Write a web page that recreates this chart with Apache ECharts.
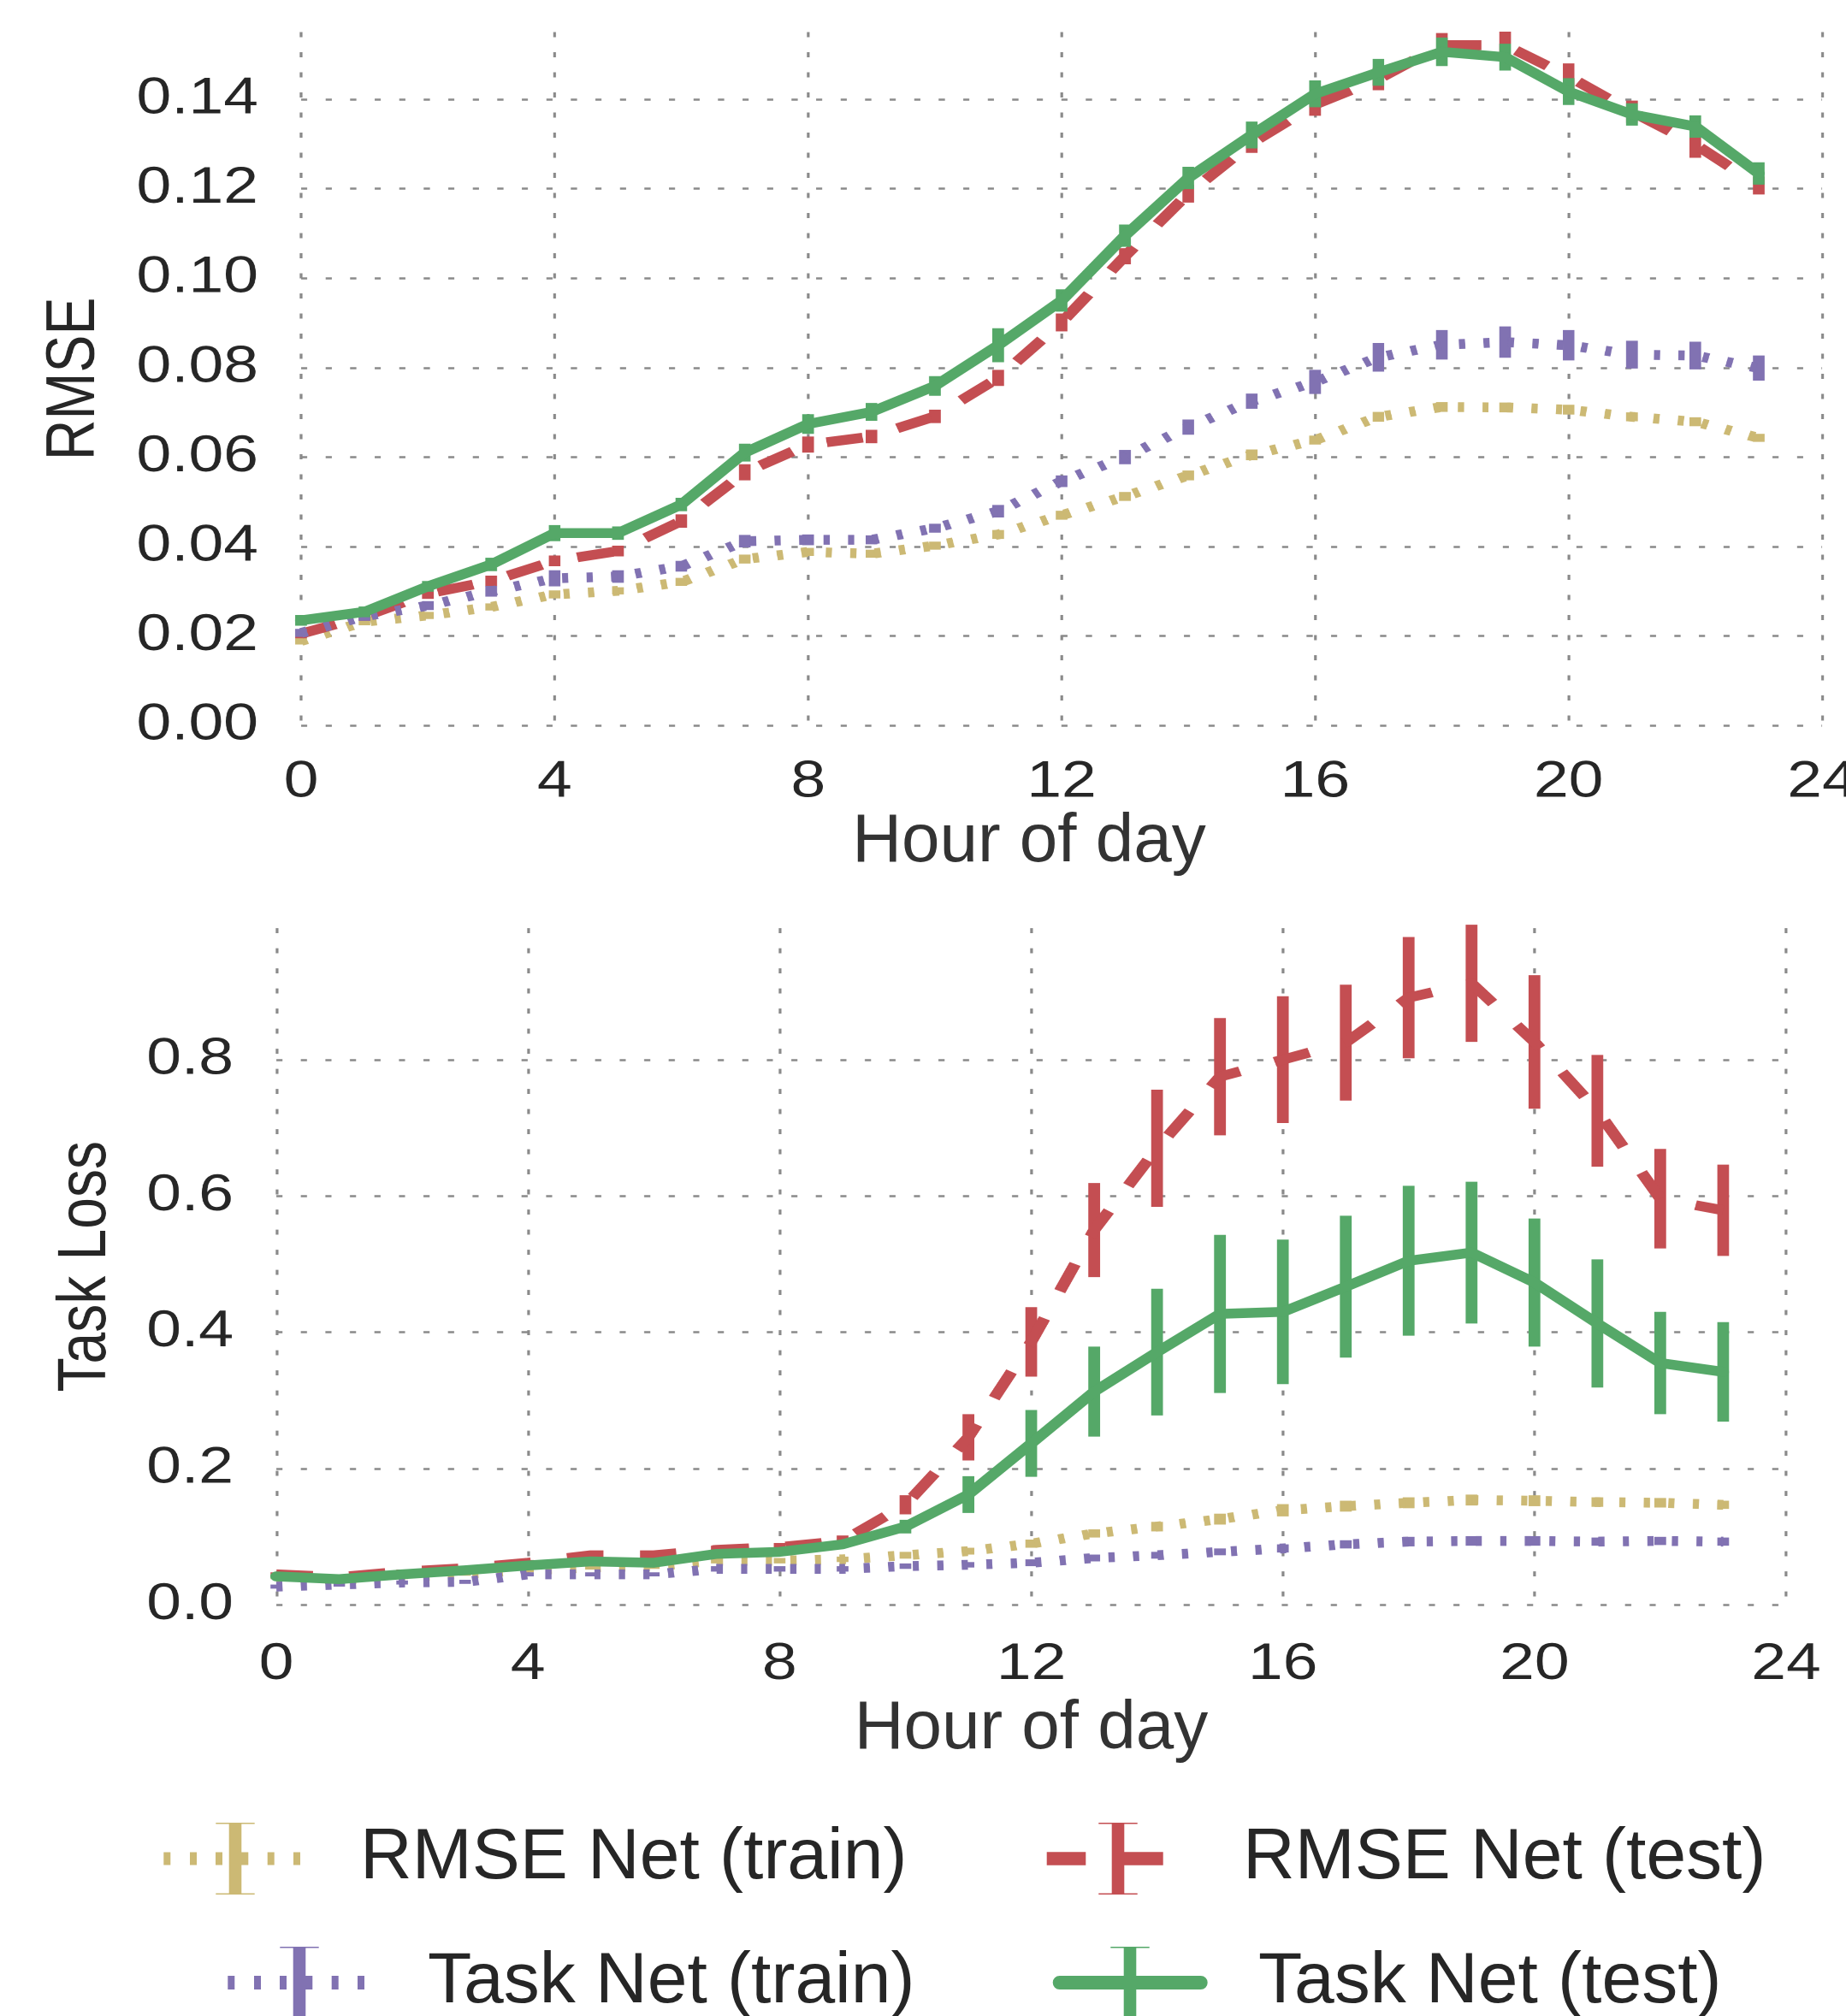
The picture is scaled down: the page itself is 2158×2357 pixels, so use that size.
<!DOCTYPE html>
<html><head><meta charset="utf-8">
<script src="https://cdn.jsdelivr.net/npm/echarts@6/dist/echarts.min.js"></script>
<style>
html,body{margin:0;padding:0;background:#fff;}
#wrap{position:relative;width:2158px;height:2357px;overflow:hidden;background:#fff;}
#plots{position:absolute;left:0;top:0;height:2357px;transform-origin:0 0;}
#legend{position:absolute;left:0;top:0;width:2158px;height:2357px;}
</style></head><body>
<div id="wrap"><div id="plots"></div><div id="legend"></div></div>
<script>
// ---------------- data ----------------
const hours = [0,1,2,3,4,5,6,7,8,9,10,11,12,13,14,15,16,17,18,19,20,21,22,23];
const seriesNames = ['RMSE Net (train)', 'RMSE Net (test)', 'Task Net (train)', 'Task Net (test)'];
const xTicks = [0,4,8,12,16,20,24];

// top panel: RMSE
const rmseRmseTrain = [0.0189,0.0232,0.0246,0.0265,0.0293,0.0301,0.0321,0.0372,0.0388,0.0384,0.0402,0.0427,0.0470,0.0512,0.0559,0.0605,0.0638,0.0690,0.0712,0.0711,0.0706,0.0690,0.0679,0.0643];
const rmseRmseTrainErr = [0.0008,0.0008,0.0008,0.0008,0.0009,0.0008,0.0009,0.0010,0.0009,0.0009,0.0009,0.0010,0.0010,0.0010,0.0011,0.0012,0.0010,0.0011,0.0011,0.0011,0.0011,0.0010,0.0010,0.0009];
const rmseRmseTest = [0.0205,0.0244,0.0295,0.0323,0.0368,0.0390,0.0457,0.0566,0.0628,0.0646,0.0691,0.0777,0.0901,0.1049,0.1189,0.1302,0.1388,0.1445,0.1521,0.1521,0.1451,0.1372,0.1299,0.1207];
const rmseRmseTestErr = [0.0010,0.0010,0.0012,0.0012,0.0012,0.0012,0.0015,0.0018,0.0018,0.0015,0.0015,0.0018,0.0020,0.0018,0.0020,0.0022,0.0025,0.0025,0.0027,0.0030,0.0029,0.0025,0.0030,0.0020];
const rmseTaskTrain = [0.0207,0.0244,0.0268,0.0300,0.0329,0.0333,0.0356,0.0412,0.0415,0.0415,0.0441,0.0479,0.0546,0.0600,0.0667,0.0725,0.0768,0.0823,0.0851,0.0857,0.0850,0.0829,0.0827,0.0799];
const rmseTaskTrainErr = [0.0009,0.0010,0.0010,0.0012,0.0018,0.0014,0.0012,0.0014,0.0012,0.0010,0.0010,0.0014,0.0013,0.0016,0.0017,0.0017,0.0027,0.0032,0.0033,0.0035,0.0034,0.0031,0.0031,0.0028];
const rmseTaskTest = [0.0235,0.0254,0.0311,0.0360,0.0430,0.0430,0.0494,0.0610,0.0674,0.0701,0.0759,0.0850,0.0950,0.1095,0.1224,0.1320,0.1412,0.1460,0.1506,0.1494,0.1417,0.1366,0.1339,0.1234];
const rmseTaskTestErr = [0.0012,0.0012,0.0012,0.0015,0.0018,0.0015,0.0015,0.0020,0.0022,0.0020,0.0022,0.0038,0.0025,0.0025,0.0025,0.0030,0.0030,0.0030,0.0032,0.0030,0.0030,0.0025,0.0025,0.0025];
const rmseTicks = [0,0.02,0.04,0.06,0.08,0.10,0.12,0.14];

// bottom panel: Task Loss
const lossRmseTrain = [0.041,0.037,0.041,0.046,0.051,0.055,0.057,0.065,0.065,0.067,0.073,0.079,0.090,0.105,0.115,0.126,0.139,0.145,0.150,0.154,0.153,0.151,0.150,0.147];
const lossRmseTrainErr = [0.003,0.003,0.003,0.003,0.003,0.003,0.004,0.004,0.004,0.004,0.005,0.005,0.006,0.006,0.007,0.008,0.009,0.008,0.008,0.008,0.008,0.007,0.007,0.006];
const lossRmseTest = [0.045,0.041,0.049,0.054,0.062,0.073,0.073,0.081,0.085,0.094,0.147,0.246,0.386,0.550,0.670,0.775,0.800,0.825,0.891,0.912,0.826,0.725,0.596,0.579];
const lossRmseTestErr = [0.003,0.003,0.003,0.003,0.004,0.005,0.005,0.006,0.006,0.008,0.014,0.034,0.051,0.069,0.086,0.086,0.093,0.085,0.089,0.086,0.098,0.082,0.073,0.067];
const lossTaskTrain = [0.027,0.030,0.033,0.034,0.045,0.045,0.045,0.053,0.053,0.053,0.057,0.059,0.062,0.069,0.073,0.078,0.083,0.089,0.093,0.094,0.094,0.093,0.094,0.093];
const lossTaskTrainErr = [0.003,0.003,0.003,0.003,0.003,0.003,0.003,0.004,0.004,0.004,0.004,0.004,0.005,0.005,0.005,0.005,0.006,0.006,0.007,0.007,0.007,0.006,0.006,0.006];
const lossTaskTest = [0.042,0.038,0.045,0.051,0.058,0.064,0.062,0.075,0.078,0.089,0.115,0.162,0.237,0.313,0.371,0.427,0.430,0.467,0.505,0.517,0.473,0.413,0.355,0.342];
const lossTaskTestErr = [0.002,0.002,0.002,0.002,0.003,0.003,0.003,0.004,0.004,0.005,0.010,0.027,0.049,0.066,0.093,0.116,0.106,0.104,0.110,0.104,0.094,0.094,0.075,0.073];
const lossTicks = [0,0.2,0.4,0.6,0.8];

// ---------------- style ----------------
const FONT = '"Liberation Sans", Arial, Helvetica, sans-serif';
const COLORS = ['#CCB974', '#C44E52', '#8172B2', '#55A868'];
const PW = 1769;              // plot canvas width before horizontal stretch
const S = 2158 / PW;          // horizontal stretch of the plot panels
const fx = x => x / S;
const LW = 11.5, EW = 11.2;
const DOT = [5.9, 17.6], DASH = [35, 35];
const LTYPES = [DOT, DASH, DOT, 'solid'];
const GRIDLINE = {color: '#8a8a8a', width: 2.6, type: [5.9, 17.6]};
const TICKC = '#262626', NAMEC = '#262626';

const plotsEl = document.getElementById('plots');
plotsEl.style.width = PW + 'px';
plotsEl.style.transform = 'scaleX(' + S + ')';

function lineS(name, vals, gi, k) {
  return {
    type: 'line', name, xAxisIndex: gi, yAxisIndex: gi,
    data: hours.map((h, i) => [h, vals[i]]),
    symbol: 'none', showSymbol: false, silent: true, clip: false,
    lineStyle: {color: COLORS[k], width: LW, type: LTYPES[k],
      cap: k === 3 ? 'round' : 'butt', join: 'round'},
    itemStyle: {color: COLORS[k]}, z: 2 + k
  };
}
function errS(name, vals, errs, gi, k) {
  return {
    type: 'custom', name, xAxisIndex: gi, yAxisIndex: gi, silent: true, clip: false,
    data: hours.map((h, i) => [h, vals[i], errs[i]]),
    encode: {x: 0, y: 1}, z: 2 + k,
    renderItem: (params, api) => {
      const x = api.value(0), y = api.value(1), e = api.value(2);
      const p1 = api.coord([x, y - e]), p2 = api.coord([x, y + e]);
      return {type: 'line', shape: {x1: p1[0], y1: p1[1], x2: p2[0], y2: p2[1]},
        style: {stroke: COLORS[k], lineWidth: EW, lineCap: 'butt'}};
    }
  };
}

function xAx(gi, labelMargin) {
  return {
    type: 'value', gridIndex: gi, min: 0, max: 24, interval: 4,
    axisLine: {show: false}, axisTick: {show: false},
    splitLine: {show: true, lineStyle: GRIDLINE},
    axisLabel: {fontSize: 60, color: TICKC, fontFamily: FONT, margin: labelMargin,
      formatter: v => (xTicks.indexOf(v) >= 0 ? String(v) : '')}
  };
}
function yAx(gi, max, interval, digits, ticks, name, nameGap) {
  return {
    type: 'value', gridIndex: gi, min: 0, max: max, interval: interval,
    axisLine: {show: false}, axisTick: {show: false},
    splitLine: {show: true, showMaxLine: false, lineStyle: GRIDLINE},
    axisLabel: {fontSize: 60, color: TICKC, fontFamily: FONT, margin: 41, showMaxLabel: false,
      formatter: v => (ticks.some(t => Math.abs(t - v) < 1e-9) ? v.toFixed(digits) : '')},
    name: name, nameLocation: 'middle', nameGap: nameGap,
    nameTextStyle: {fontSize: 66, color: NAMEC, fontFamily: FONT}
  };
}

// grid geometry (full-size pixel coords of the reference)
const TOP_MAX = 0.155, BOT_MAX = 0.993;
const topY0 = 848.2, topPer = 104.6 / 0.02;
const botY0 = 1876.5, botPer = 797;
const G1 = {x0: 352, x1: 2130, top: topY0 - TOP_MAX * topPer, height: TOP_MAX * topPer};
const G2 = {x0: 323, x1: 2088, top: botY0 - BOT_MAX * botPer, height: BOT_MAX * botPer};

const topVals = [rmseRmseTrain, rmseRmseTest, rmseTaskTrain, rmseTaskTest];
const topErrs = [rmseRmseTrainErr, rmseRmseTestErr, rmseTaskTrainErr, rmseTaskTestErr];
const botVals = [lossRmseTrain, lossRmseTest, lossTaskTrain, lossTaskTest];
const botErrs = [lossRmseTrainErr, lossRmseTestErr, lossTaskTrainErr, lossTaskTestErr];
const allSeries = [];
for (let k = 0; k < 4; k++) {
  allSeries.push(lineS(seriesNames[k], topVals[k], 0, k));
  allSeries.push(errS(seriesNames[k], topVals[k], topErrs[k], 0, k));
}
for (let k = 0; k < 4; k++) {
  allSeries.push(lineS(seriesNames[k], botVals[k], 1, k));
  allSeries.push(errS(seriesNames[k], botVals[k], botErrs[k], 1, k));
}

const chartA = echarts.init(plotsEl, null, {renderer: 'canvas', devicePixelRatio: 2});
chartA.setOption({
  animation: false,
  backgroundColor: 'transparent',
  textStyle: {fontFamily: FONT},
  grid: [
    {left: fx(G1.x0), width: fx(G1.x1 - G1.x0), top: G1.top, height: G1.height, containLabel: false, outerBoundsMode: 'none'},
    {left: fx(G2.x0), width: fx(G2.x1 - G2.x0), top: G2.top, height: G2.height, containLabel: false, outerBoundsMode: 'none'}
  ],
  xAxis: [xAx(0, 37), xAx(1, 40)],
  yAxis: [
    yAx(0, TOP_MAX, 0.02, 2, rmseTicks, 'RMSE', 184),
    yAx(1, BOT_MAX, 0.2, 1, lossTicks, 'Task Loss', 149)
  ],
  series: allSeries
});

// ---------------- x-axis titles and legend (not stretched) ----------------
function rectsPath(rs) {
  let d = 'M0 0h0.01v0.01h-0.01Z M181.99 83.99h0.01v0.01h-0.01Z ';
  rs.forEach(r => { d += 'M' + r[0] + ' ' + r[1] + 'h' + r[2] + 'v' + r[3] + 'h' + (-r[2]) + 'Z '; });
  return 'path://' + d;
}
const errBar = [[83.7, 0, 14.6, 84], [68.3, 0, 45.4, 1.6], [68.3, 82.4, 45.4, 1.6]];
const dots = (th) => [7.3, 38, 68, 98.3, 128.7, 159].map(x => [x, 42 - th / 2, 8, th]);
const ICONS = [
  rectsPath(dots(15).concat(errBar)),
  rectsPath([[7.7, 34.3, 45.6, 15.4], [98.3, 34.3, 45.4, 15.4]].concat(errBar)),
  rectsPath(dots(16).concat(errBar)),
  'path://M0 0h0.01v0.01h-0.01Z M181.99 83.99h0.01v0.01h-0.01Z M8.7 34H173.7A8 8 0 0 1 173.7 50H8.7A8 8 0 0 1 8.7 34Z ' +
    errBar.map(r => 'M' + r[0] + ' ' + r[1] + 'h' + r[2] + 'v' + r[3] + 'h' + (-r[2]) + 'Z').join(' ')
];
const legendPos = [[184, 2131, 50], [1216, 2131, 50], [259, 2276, 54], [1230, 2276, 54]];

function titleAxis(gi, nameGap, pad) {
  return {
    type: 'value', gridIndex: gi, min: 0, max: 24, interval: 4,
    axisLine: {show: false}, axisTick: {show: false}, axisLabel: {show: false}, splitLine: {show: false},
    name: 'Hour of day', nameLocation: 'middle', nameGap: nameGap,
    nameTextStyle: {fontSize: 80, lineHeight: 80, color: '#333333', fontFamily: FONT, padding: pad}
  };
}

const chartB = echarts.init(document.getElementById('legend'), null, {renderer: 'canvas'});
chartB.setOption({
  animation: false,
  backgroundColor: 'transparent',
  textStyle: {fontFamily: FONT},
  grid: [
    {left: G1.x0, width: G1.x1 - G1.x0, top: G1.top, height: G1.height, containLabel: false, outerBoundsMode: 'none', show: false},
    {left: G2.x0, width: G2.x1 - G2.x0, top: G2.top, height: G2.height, containLabel: false, outerBoundsMode: 'none', show: false}
  ],
  xAxis: [titleAxis(0, 97, [0, 76, 0, 0]), titleAxis(1, 105, [0, 0, 0, 0])],
  yAxis: [
    {type: 'value', gridIndex: 0, min: 0, max: 1, show: false},
    {type: 'value', gridIndex: 1, min: 0, max: 1, show: false}
  ],
  legend: seriesNames.map((n, k) => ({
    data: [n], left: legendPos[k][0], top: legendPos[k][1], padding: 0,
    itemWidth: 182, itemHeight: 84, icon: ICONS[k], selectedMode: false,
    itemStyle: {borderWidth: 0},
    textStyle: {fontSize: 84, color: '#262626', fontFamily: FONT, padding: [0, 0, 0, legendPos[k][2]]}
  })),
  series: seriesNames.map((n, k) => ({
    type: 'custom', name: n, coordinateSystem: 'none', data: [],
    itemStyle: {color: COLORS[k]}, renderItem: () => null
  }))
});
</script>
</body></html>
